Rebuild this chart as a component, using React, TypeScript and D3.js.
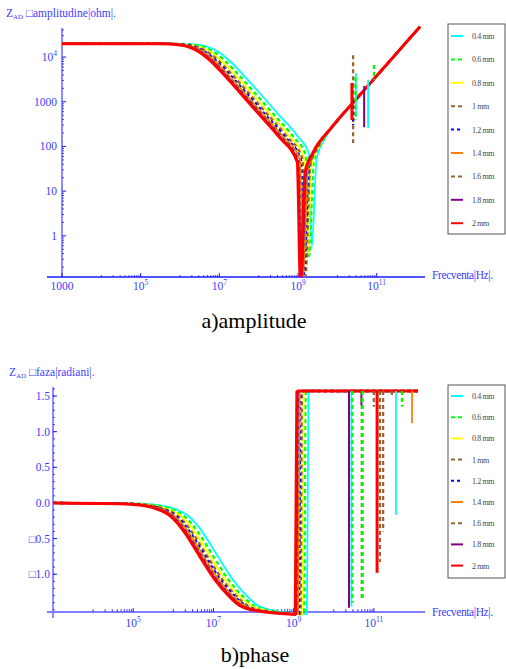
import React from "react";
import * as d3 from "d3";

// series: sample diameter
const sizes = ["0.4 mm", "0.6 mm", "0.8 mm", "1 mm", "1.2 mm", "1.4 mm", "1.6 mm", "1.8 mm", "2 mm"];
const colors = ["#00ffff", "#00ff00", "#ffff00", "#996633", "#0000ff", "#ff8000", "#996633", "#800080", "#ff0000"];
const dashes = [null, "4,3", null, "4,3", "3,3", null, "4,3", null, null];
const widths = [1.8, 2.3, 1.8, 2.3, 2.3, 1.8, 2.3, 2, 3];

// amplitude, [log10 f (Hz), log10 |Z| (ohm)]
const ampHigh = [[10.5, 3.08], [11, 3.58], [11.5, 4.08], [12.1, 4.68]];
const amp04 = [[3, 4.3], [5.49, 4.3], [5.99, 4.297], [6.49, 4.272], [6.74, 4.22], [6.99, 4.11], [7.24, 3.935], [7.49, 3.715], [7.99, 3.229], [8.49, 2.73], [8.99, 2.23], [9.27, 1.85], [9.35, -0.25], [9.47, 1.72], [9.68, 2.17], [10.11, 2.68], ...ampHigh];
const amp06 = [[3, 4.3], [5.37, 4.3], [5.87, 4.297], [6.37, 4.272], [6.62, 4.22], [6.87, 4.11], [7.12, 3.935], [7.37, 3.715], [7.87, 3.229], [8.37, 2.73], [8.87, 2.23], [9.2, 1.8], [9.28, -0.45], [9.4, 1.65], [9.61, 2.1], [10.04, 2.61], ...ampHigh];
const amp08 = [[3, 4.3], [5.28, 4.3], [5.78, 4.297], [6.28, 4.272], [6.53, 4.22], [6.78, 4.11], [7.03, 3.935], [7.28, 3.715], [7.78, 3.229], [8.28, 2.73], [8.78, 2.23], [9.15, 1.76], [9.23, -0.5], [9.35, 1.6], [9.56, 2.05], [9.99, 2.56], ...ampHigh];
const amp10 = [[3, 4.3], [5.21, 4.3], [5.71, 4.297], [6.21, 4.272], [6.46, 4.22], [6.71, 4.11], [6.96, 3.935], [7.21, 3.715], [7.71, 3.229], [8.21, 2.73], [8.71, 2.23], [9.11, 1.73], [9.19, -0.9], [9.31, 1.56], [9.52, 2.01], [9.95, 2.52], ...ampHigh];
const amp12 = [[3, 4.3], [5.15, 4.3], [5.65, 4.297], [6.15, 4.272], [6.4, 4.22], [6.65, 4.11], [6.9, 3.935], [7.15, 3.715], [7.65, 3.229], [8.15, 2.73], [8.65, 2.23], [9.07, 1.71], [9.15, -0.85], [9.27, 1.52], [9.48, 1.97], [9.91, 2.48], ...ampHigh];
const amp14 = [[3, 4.3], [5.11, 4.3], [5.61, 4.297], [6.11, 4.272], [6.36, 4.22], [6.61, 4.11], [6.86, 3.935], [7.11, 3.715], [7.61, 3.229], [8.11, 2.73], [8.61, 2.23], [9.05, 1.71], [9.13, -0.9], [9.25, 1.5], [9.46, 1.95], [9.89, 2.46], ...ampHigh];
const amp16 = [[3, 4.3], [5.07, 4.3], [5.57, 4.297], [6.07, 4.272], [6.32, 4.22], [6.57, 4.11], [6.82, 3.935], [7.07, 3.715], [7.57, 3.229], [8.07, 2.73], [8.57, 2.23], [9.02, 1.68], [9.1, -1], [9.22, 1.47], [9.43, 1.92], [9.86, 2.43], ...ampHigh];
const amp18 = [[3, 4.3], [5.03, 4.3], [5.53, 4.297], [6.03, 4.272], [6.28, 4.22], [6.53, 4.11], [6.78, 3.935], [7.03, 3.715], [7.53, 3.229], [8.03, 2.73], [8.53, 2.23], [9.0, 1.66], [9.08, -1], [9.2, 1.45], [9.41, 1.9], [9.84, 2.41], ...ampHigh];
const amp20 = [[3, 4.3], [5.0, 4.3], [5.5, 4.297], [6.0, 4.272], [6.25, 4.22], [6.5, 4.11], [6.75, 3.935], [7.0, 3.715], [7.5, 3.229], [8.0, 2.73], [8.5, 2.23], [8.98, 1.65], [9.06, -1], [9.18, 1.43], [9.39, 1.88], [9.82, 2.39], ...ampHigh];
const ampSeries = [amp04, amp06, amp08, amp10, amp12, amp14, amp16, amp18, amp20];
// glitches: [series, log10 f, top, bottom]
const ampSpikes = [[3, 10.4, 4.04, 2.08], [0, 10.47, 3.64, 2.66], [1, 10.46, 3.55, 2.59], [4, 10.4, 3.04, 2.48], [8, 10.37, 3.42, 2.59], [7, 10.68, 3.35, 2.43], [0, 10.78, 3.49, 2.41], [1, 10.93, 3.82, 3.49]];

// phase, [log10 f (Hz), rad]
const phHigh = [[12.1, 1.571]];
const ph04 = [[3, 0], [5.12, -0.01], [5.62, -0.03], [5.99, -0.075], [6.37, -0.18], [6.55, -0.28], [6.74, -0.42], [7.12, -0.76], [7.49, -1.08], [7.86, -1.32], [8.11, -1.44], [8.61, -1.52], [9.11, -1.55], [9.33, -1.56], [9.37, 1.56], [9.41, 1.571], ...phHigh];
const ph06 = [[3, 0], [5.01, -0.01], [5.51, -0.03], [5.88, -0.075], [6.26, -0.18], [6.44, -0.28], [6.63, -0.42], [7.01, -0.76], [7.38, -1.08], [7.75, -1.32], [8.0, -1.44], [8.5, -1.52], [9.0, -1.55], [9.26, -1.56], [9.3, 1.56], [9.34, 1.571], ...phHigh];
const ph08 = [[3, 0], [4.93, -0.01], [5.43, -0.03], [5.8, -0.075], [6.18, -0.18], [6.36, -0.28], [6.55, -0.42], [6.93, -0.76], [7.3, -1.08], [7.67, -1.32], [7.92, -1.44], [8.42, -1.52], [8.92, -1.55], [9.21, -1.56], [9.25, 1.56], [9.29, 1.571], ...phHigh];
const ph10 = [[3, 0], [4.86, -0.01], [5.36, -0.03], [5.73, -0.075], [6.11, -0.18], [6.29, -0.28], [6.48, -0.42], [6.86, -0.76], [7.23, -1.08], [7.6, -1.32], [7.85, -1.44], [8.35, -1.52], [8.85, -1.55], [9.17, -1.56], [9.21, 1.56], [9.25, 1.571], ...phHigh];
const ph12 = [[3, 0], [4.81, -0.01], [5.31, -0.03], [5.68, -0.075], [6.06, -0.18], [6.24, -0.28], [6.43, -0.42], [6.81, -0.76], [7.18, -1.08], [7.55, -1.32], [7.8, -1.44], [8.3, -1.52], [8.8, -1.55], [9.13, -1.56], [9.17, 1.56], [9.21, 1.571], ...phHigh];
const ph14 = [[3, 0], [4.77, -0.01], [5.27, -0.03], [5.64, -0.075], [6.02, -0.18], [6.2, -0.28], [6.39, -0.42], [6.77, -0.76], [7.14, -1.08], [7.51, -1.32], [7.76, -1.44], [8.26, -1.52], [8.76, -1.55], [9.11, -1.56], [9.15, 1.56], [9.19, 1.571], ...phHigh];
const ph16 = [[3, 0], [4.73, -0.01], [5.23, -0.03], [5.6, -0.075], [5.98, -0.18], [6.16, -0.28], [6.35, -0.42], [6.73, -0.76], [7.1, -1.08], [7.47, -1.32], [7.72, -1.44], [8.22, -1.52], [8.72, -1.55], [9.08, -1.56], [9.12, 1.56], [9.16, 1.571], ...phHigh];
const ph18 = [[3, 0], [4.7, -0.01], [5.2, -0.03], [5.57, -0.075], [5.95, -0.18], [6.13, -0.28], [6.32, -0.42], [6.7, -0.76], [7.07, -1.08], [7.44, -1.32], [7.69, -1.44], [8.19, -1.52], [8.69, -1.55], [9.06, -1.56], [9.1, 1.56], [9.14, 1.571], ...phHigh];
const ph20 = [[3, 0], [4.67, -0.01], [5.17, -0.03], [5.54, -0.075], [5.92, -0.18], [6.1, -0.28], [6.29, -0.42], [6.67, -0.76], [7.04, -1.08], [7.41, -1.32], [7.66, -1.44], [8.16, -1.52], [8.66, -1.55], [9.04, -1.56], [9.08, 1.56], [9.12, 1.571], ...phHigh];
const phSeries = [ph04, ph06, ph08, ph10, ph12, ph14, ph16, ph18, ph20];
// glitches dropping from +pi/2: [series, log10 f, lowest value]
const phSpikes = [[0, 10.44, -1.45], [1, 10.46, -1.4], [7, 10.38, -1.47], [7, 10.69, 1.37], [3, 10.7, -1.33], [1, 10.72, -1.36], [3, 11.0, 1.35], [8, 11.08, -0.98], [6, 11.15, -0.83], [6, 11.23, -0.4], [3, 11.45, 1.5], [0, 11.55, -0.17], [1, 11.7, 1.35], [5, 11.95, 1.12]];

// ticks
const ampXLabels = [3, 5, 7, 9, 11];
const ampYLabels = [0, 1, 2, 3, 4];
const phXLabels = [5, 7, 9, 11];
const phYTicks = [-1, -0.5, 0, 0.5, 1, 1.5];
const phYLabels = ["\u25A11.0", "\u25A10.5", "0.0", "0.5", "1.0", "1.5"];

const font = "Liberation Serif, Times New Roman, serif";
const axisBlue = "#1a1aff";
const textBlue = "#3c3cff";

const Pow = ({ x, y, e, anchor }: { x: number; y: number; e: number; anchor: string }) =>
  e === 3 ? (
    <text x={x} y={y} textAnchor={anchor} fontSize={11.5} fill={textBlue}>1000</text>
  ) : e === 0 || e === 1 || e === 2 ? (
    <text x={x} y={y} textAnchor={anchor} fontSize={11.5} fill={textBlue}>{String(10 ** e)}</text>
  ) : (
    <text x={x} y={y} textAnchor={anchor} fontSize={11.5} fill={textBlue}>
      10<tspan dy={-5} fontSize={7.5}>{e}</tspan>
    </text>
  );

const Legend = ({ x, y, w, h, first, step }: { x: number; y: number; w: number; h: number; first: number; step: number }) => (
  <g>
    <rect x={x} y={y} width={w} height={h} fill="white" stroke="#555" strokeWidth={1} />
    {sizes.map((s, i) => (
      <g key={s}>
        <line x1={x + 3} x2={x + 15} y1={first + i * step} y2={first + i * step} stroke={colors[i]} strokeWidth={2} strokeDasharray={dashes[i] || undefined} />
        <text x={x + 24} y={first + i * step + 3} fontSize={8} fill="#444" letterSpacing={-0.4}>{s}</text>
      </g>
    ))}
  </g>
);

export default function App() {
  // amplitude panel
  const ax = d3.scaleLog().domain([1e3, 10 ** 12.1]).range([62, 420]);
  const ay = d3.scaleLog().domain([10 ** -0.92, 10 ** 4.65]).range([277, 28]);
  const aLine = d3.line<number[]>().x(d => ax(10 ** d[0])).y(d => ay(10 ** d[1])).curve(d3.curveMonotoneX);

  // phase panel
  const px = d3.scaleLog().domain([1e3, 10 ** 12.1]).range([53, 418]);
  const py = d3.scaleLinear().domain([-1.53, 1.62]).range([612, 387.5]);
  const pLine = d3.line<number[]>().x(d => px(10 ** d[0])).y(d => py(d[1])).curve(d3.curveMonotoneX);

  const minorDecades = [4, 6, 8, 10];
  const xMinor: number[] = [];
  minorDecades.forEach(n => d3.range(1, 10).forEach(j => xMinor.push(j * 10 ** n)));
  const yMinor: number[] = [];
  d3.range(-1, 5).forEach(n => d3.range(2, 10).forEach(j => yMinor.push(j * 10 ** n)));
  const yMinorA = yMinor.filter(v => v > 10 ** -0.92 && v < 10 ** 4.65);
  const phMinor = d3.range(-15, 17).map(k => k / 10);

  return (
    <svg width={506} height={669} style={{ position: "absolute", left: 0, top: 0, background: "white", fontFamily: font }}>
      <defs>
        <clipPath id="clipA"><rect x={55} y={20} width={380} height={257} /></clipPath>
      </defs>

      {/* ---------- amplitude ---------- */}
      <text x={6} y={17} fontSize={11.5} fill={textBlue}>
        Z<tspan dy={2} fontSize={7}>AD</tspan><tspan dy={-2}> {"\u25A1"}amplitudine|ohm|.</tspan>
      </text>
      <line x1={62} x2={62} y1={28} y2={277} stroke={axisBlue} strokeWidth={1} />
      {yMinorA.map((v, i) => <line key={i} x1={62} x2={64} y1={ay(v)} y2={ay(v)} stroke={axisBlue} strokeWidth={0.8} />)}
      {ampYLabels.map(e => (
        <g key={e}>
          <line x1={62} x2={66} y1={ay(10 ** e)} y2={ay(10 ** e)} stroke={axisBlue} strokeWidth={1} />
          <Pow x={57} y={ay(10 ** e) + 4} e={e} anchor="end" />
        </g>
      ))}
      <line x1={47} x2={425} y1={277} y2={277} stroke={axisBlue} strokeWidth={1.5} />
      {xMinor.map((v, i) => <line key={i} x1={ax(v)} x2={ax(v)} y1={277} y2={275} stroke={axisBlue} strokeWidth={0.8} />)}
      {ampXLabels.map(e => (
        <g key={e}>
          <line x1={ax(10 ** e)} x2={ax(10 ** e)} y1={277} y2={273} stroke={axisBlue} strokeWidth={1} />
          <Pow x={ax(10 ** e)} y={290} e={e} anchor="middle" />
        </g>
      ))}
      <text x={432} y={279} fontSize={11.5} fill={textBlue} letterSpacing={-0.4}>Frecventa|Hz|.</text>

      <g clipPath="url(#clipA)" fill="none" strokeLinejoin="round">
        {ampSeries.map((s, i) => (
          <path key={i} d={aLine(s) || ""} stroke={colors[i]} strokeWidth={widths[i]} strokeDasharray={dashes[i] || undefined} />
        ))}
        {ampSpikes.map((s, i) => (
          <line key={i} x1={ax(10 ** s[1])} x2={ax(10 ** s[1])} y1={ay(10 ** s[2])} y2={ay(10 ** s[3])} stroke={colors[s[0]]} strokeWidth={widths[s[0]]} strokeDasharray={dashes[s[0]] || undefined} />
        ))}
      </g>
      <Legend x={448} y={24} w={57} h={210} first={36} step={23.4} />
      <text x={254} y={328} textAnchor="middle" fontSize={22} fill="black" fontFamily="Liberation Serif">a)amplitude</text>

      {/* ---------- phase ---------- */}
      <text x={9} y={376} fontSize={11.5} fill={textBlue}>
        Z<tspan dy={2} fontSize={7}>AD</tspan><tspan dy={-2}> {"\u25A1"}faza|radiani|.</tspan>
      </text>
      <line x1={53} x2={53} y1={387} y2={618} stroke={axisBlue} strokeWidth={1} />
      {phMinor.map((v, i) => <line key={i} x1={53} x2={55} y1={py(v)} y2={py(v)} stroke={axisBlue} strokeWidth={0.8} />)}
      {phYTicks.map((v, i) => (
        <g key={v}>
          <line x1={53} x2={57} y1={py(v)} y2={py(v)} stroke={axisBlue} strokeWidth={1} />
          <text x={50} y={py(v) + 4} textAnchor="end" fontSize={11.5} fill={textBlue}>{phYLabels[i]}</text>
        </g>
      ))}
      <line x1={47} x2={425} y1={612} y2={612} stroke="#7f7fff" strokeWidth={2} />
      {xMinor.map((v, i) => <line key={i} x1={px(v)} x2={px(v)} y1={612} y2={609} stroke={axisBlue} strokeWidth={0.8} />)}
      {phXLabels.map(e => (
        <g key={e}>
          <line x1={px(10 ** e)} x2={px(10 ** e)} y1={612} y2={608} stroke={axisBlue} strokeWidth={1} />
          <Pow x={px(10 ** e)} y={627} e={e} anchor="middle" />
        </g>
      ))}
      <text x={432} y={616} fontSize={11.5} fill={textBlue} letterSpacing={-0.4}>Frecventa|Hz|.</text>

      <g fill="none" strokeLinejoin="round">
        {phSeries.map((s, i) => (
          <path key={i} d={pLine(s) || ""} stroke={colors[i]} strokeWidth={widths[i]} strokeDasharray={dashes[i] || undefined} />
        ))}
        {phSpikes.map((s, i) => (
          <line key={i} x1={px(10 ** s[1])} x2={px(10 ** s[1])} y1={py(1.571)} y2={py(s[2])} stroke={colors[s[0]]} strokeWidth={widths[s[0]]} strokeDasharray={dashes[s[0]] || undefined} />
        ))}
      </g>
      <Legend x={448} y={385} w={57} h={193} first={396} step={21.2} />
      <text x={255} y={662} textAnchor="middle" fontSize={22} fill="black" fontFamily="Liberation Serif">b)phase</text>
    </svg>
  );
}
